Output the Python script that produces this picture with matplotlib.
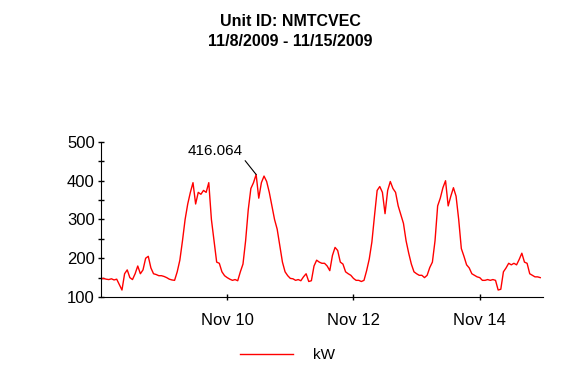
import matplotlib
matplotlib.use("Agg")
import matplotlib.pyplot as plt
import matplotlib.dates as mdates
import pandas as pd

plt.rcParams['font.family'] = ['Liberation Sans', 'DejaVu Sans']

# --- dados: leitura horaria (kW), 8/11/2009 00:00 ate 14/11/2009 23:00
kw_nov08 = [147, 148, 146, 145, 147, 144, 146, 132, 118, 160, 170, 150,
            145, 160, 180, 160, 170, 200, 205, 175, 160, 158, 155, 155]
kw_nov09 = [153, 150, 146, 144, 143, 165, 195, 245, 300, 340, 370, 395,
            340, 370, 365, 375, 370, 395, 300, 245, 190, 187, 165, 155]
kw_nov10 = [150, 146, 143, 145, 142, 165, 185, 245, 325, 380, 395, 416.064,
            355, 395, 412, 398, 370, 335, 300, 275, 233, 190, 165, 155]
kw_nov11 = [148, 147, 143, 145, 142, 152, 160, 140, 142, 180, 195, 190,
            187, 187, 180, 168, 207, 228, 220, 190, 185, 165, 160, 156]
kw_nov12 = [148, 143, 143, 140, 143, 168, 198, 242, 310, 375, 385, 370,
            315, 375, 398, 380, 370, 335, 312, 290, 245, 213, 185, 165]
kw_nov13 = [160, 156, 156, 150, 156, 176, 190, 245, 335, 355, 382, 400,
            335, 360, 382, 360, 300, 225, 205, 183, 175, 160, 156, 152]
kw_nov14 = [150, 143, 143, 145, 143, 145, 143, 118, 120, 165, 175, 187,
            183, 187, 183, 197, 213, 190, 187, 160, 156, 152, 152, 150]

kw = kw_nov08 + kw_nov09 + kw_nov10 + kw_nov11 + kw_nov12 + kw_nov13 + kw_nov14
tempo = pd.date_range('2009-11-08 00:00', periods=len(kw), freq='h')
serie = pd.Series(kw, index=tempo)

fig = plt.figure(figsize=(5.8, 3.8), dpi=100)
ax = fig.add_axes([0.174, 0.2184, 0.762, 0.408])

ax.plot(serie.index, serie.values, color='#ff0000', linewidth=1, label='kW')

# pico anotado
pico_t = serie.idxmax()
pico_v = serie.max()
ax.annotate(f'{pico_v:.3f}', xy=(pico_t, pico_v),
            xytext=(pd.Timestamp('2009-11-09 19:30'), 477),
            ha='center', va='center', fontsize=11,
            arrowprops=dict(arrowstyle='-', color='black', lw=0.8,
                            shrinkA=0, shrinkB=0, relpos=(1.0, 0.0)))

ax.set_xlim(pd.Timestamp('2009-11-08'), pd.Timestamp('2009-11-15'))
ax.set_ylim(100, 500)
ax.set_yticks([100, 200, 300, 400, 500])
ax.set_yticks([150, 250, 350, 450], minor=True)
ax.xaxis.set_major_locator(mdates.DayLocator(bymonthday=[10, 12, 14]))
ax.xaxis.set_major_formatter(mdates.DateFormatter('%b %d'))

ax.spines['top'].set_visible(False)
ax.spines['right'].set_visible(False)
ax.tick_params(axis='both', which='both', direction='inout', length=5,
               width=1, labelsize=12, pad=2)
ax.tick_params(axis='x', pad=9)

# titulo
fig.text(0.5, 1 - 22 / 380, 'Unit ID: NMTCVEC', ha='center', va='center',
         fontsize=11.5, fontweight='bold')
fig.text(0.5, 1 - 42 / 380, '11/8/2009 - 11/15/2009', ha='center',
         va='center', fontsize=11.5, fontweight='bold')

fig.legend(loc='center', bbox_to_anchor=(287.5 / 580, 1 - 355 / 380),
           frameon=False, handlelength=3.5, handletextpad=1.3, fontsize=11)

fig.savefig('out.png', dpi=100)
